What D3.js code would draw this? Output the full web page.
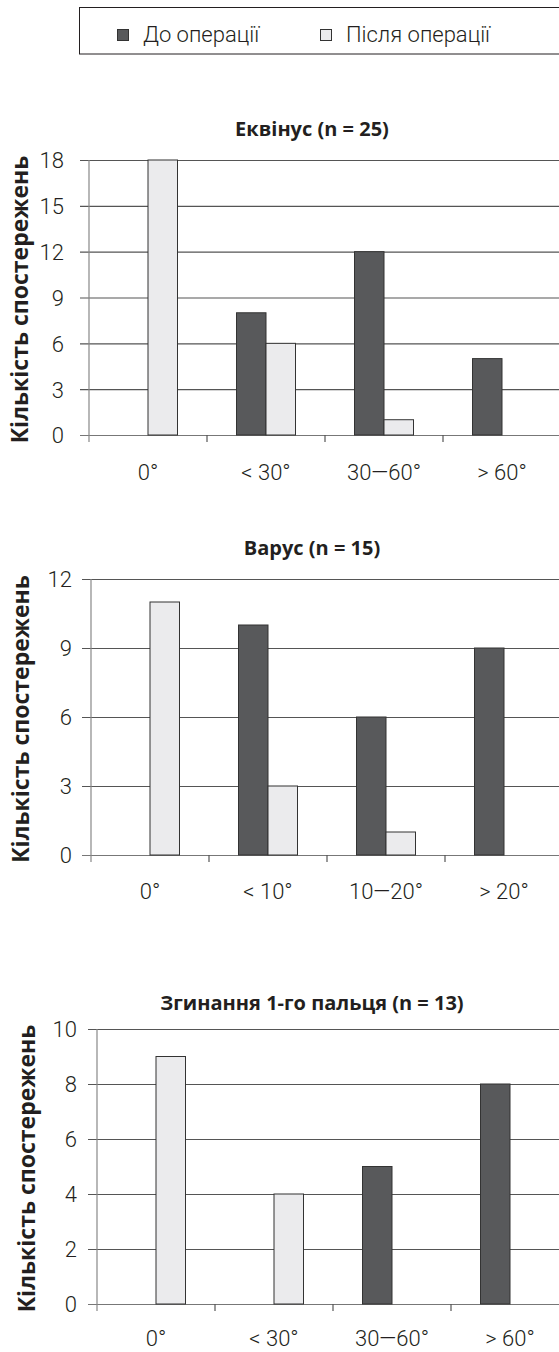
<!DOCTYPE html>
<html>
<head>
<meta charset="utf-8">
<script src="https://cdn.jsdelivr.net/npm/d3@7"></script>
<style>
  html, body { margin: 0; padding: 0; background: #fff; }
  svg { display: block; }
  .tick-label { font-family: Roboto, "Liberation Sans", sans-serif; font-weight: 300; fill: #231f20; }
  .title { font-family: "Open Sans", "DejaVu Sans", sans-serif; font-weight: 700; fill: #231f20; }
</style>
</head>
<body>
<svg id="chart" width="559" height="1352"></svg>
<script>
// Series names shown in the legend
const seriesNames = ["До операції", "Після операції"];
const seriesColors = ["#58595b", "#ebebed"];

// Panel 1: equinus
const equinusTitle = "Еквінус (n = 25)";
const equinusCategories = ["0°", "< 30°", "30—60°", "> 60°"];
const equinusBefore = [0, 8, 12, 5];
const equinusAfter = [18, 6, 1, 0];
const equinusTicks = [0, 3, 6, 9, 12, 15, 18];

// Panel 2: varus
const varusTitle = "Варус (n = 15)";
const varusCategories = ["0°", "< 10°", "10—20°", "> 20°"];
const varusBefore = [0, 10, 6, 9];
const varusAfter = [11, 3, 1, 0];
const varusTicks = [0, 3, 6, 9, 12];

// Panel 3: big toe flexion
const toeTitle = "Згинання 1-го пальця (n = 13)";
const toeCategories = ["0°", "< 30°", "30—60°", "> 60°"];
const toeBefore = [0, 0, 5, 8];
const toeAfter = [9, 4, 0, 0];
const toeTicks = [0, 2, 4, 6, 8, 10];

const yTitle = "Кількість спостережень";

const svg = d3.select("#chart");

// Legend box
const legend = svg.append("g");
legend.append("rect")
  .attr("x", 79.5).attr("y", 7.5).attr("width", 500).attr("height", 46.5)
  .attr("fill", "#fff").attr("stroke", "#231f20").attr("stroke-width", 1);
const legendX = [117, 320];
seriesNames.forEach((name, i) => {
  legend.append("rect")
    .attr("x", legendX[i] + 0.5).attr("y", 29.5).attr("width", 11).attr("height", 11)
    .attr("fill", seriesColors[i]).attr("stroke", "#333").attr("stroke-width", 1);
  legend.append("text")
    .attr("class", "tick-label")
    .attr("x", legendX[i] + 26).attr("y", 42)
    .attr("font-size", 22)
    .text(name);
});

const panels = [
  { title: equinusTitle, cats: equinusCategories, before: equinusBefore, after: equinusAfter, ticks: equinusTicks,
    top: 160, bottom: 435, left: 89, titleY: 136, yTitleX: 20, labelGap: 25, catGap: 45 },
  { title: varusTitle, cats: varusCategories, before: varusBefore, after: varusAfter, ticks: varusTicks,
    top: 579, bottom: 855, left: 91, titleY: 555, yTitleX: 21, labelGap: 19, catGap: 44 },
  { title: toeTitle, cats: toeCategories, before: toeBefore, after: toeAfter, ticks: toeTicks,
    top: 1029, bottom: 1304, left: 97, titleY: 1010, yTitleX: 27, labelGap: 20, catGap: 42 }
];

panels.forEach(p => {
  const g = svg.append("g");
  const x = d3.scaleBand().domain(p.cats).range([p.left, p.left + 472]).padding(0);
  const inner = d3.scaleBand().domain(seriesNames)
    .range([x.bandwidth() / 4, x.bandwidth() * 3 / 4]).padding(0);
  const y = d3.scaleLinear().domain([0, d3.max(p.ticks)]).range([p.bottom, p.top]);

  // Horizontal grid lines with outward ticks
  const yAxis = d3.axisLeft(y).tickValues(p.ticks).tickSize(-(560 - p.left)).tickSizeOuter(0);
  const ya = g.append("g").attr("transform", `translate(${p.left},0)`).call(yAxis);
  ya.select(".domain").remove();
  ya.selectAll(".tick line")
    .attr("x1", -9)
    .attr("stroke", d => d === 0 ? "#777" : "#555")
    .attr("stroke-width", 1.2);
  ya.selectAll(".tick text")
    .attr("class", "tick-label")
    .attr("font-size", 22)
    .attr("x", -p.labelGap)
    .attr("dy", "0.36em");

  // Vertical axis line
  g.append("line")
    .attr("x1", p.left).attr("x2", p.left)
    .attr("y1", p.top).attr("y2", p.bottom + 7)
    .attr("stroke", "#888").attr("stroke-width", 1.2);

  // Category boundary ticks under the baseline
  g.selectAll(".cat-tick").data(p.cats.slice(1)).join("line")
    .attr("x1", d => x(d)).attr("x2", d => x(d))
    .attr("y1", p.bottom).attr("y2", p.bottom + 7)
    .attr("stroke", "#555").attr("stroke-width", 1.2);

  // Category labels
  g.selectAll(".cat-label").data(p.cats).join("text")
    .attr("class", "tick-label")
    .attr("x", d => x(d) + x.bandwidth() / 2)
    .attr("y", p.bottom + p.catGap)
    .attr("text-anchor", "middle")
    .attr("font-size", 22)
    .text(d => d);

  // Bars
  const rows = [];
  p.cats.forEach((c, i) => {
    [p.before[i], p.after[i]].forEach((v, s) => {
      if (v > 0) rows.push({ cat: c, series: seriesNames[s], value: v, color: seriesColors[s] });
    });
  });
  g.selectAll(".bar").data(rows).join("rect")
    .attr("x", d => x(d.cat) + inner(d.series))
    .attr("width", inner.bandwidth())
    .attr("y", d => y(d.value))
    .attr("height", d => y(0) - y(d.value))
    .attr("fill", d => d.color)
    .attr("stroke", "#333")
    .attr("stroke-width", 1);

  // Panel title
  g.append("text")
    .attr("class", "title")
    .attr("x", 312).attr("y", p.titleY)
    .attr("text-anchor", "middle")
    .attr("font-size", 20)
    .text(p.title);

  // Y axis title
  g.append("text")
    .attr("class", "title")
    .attr("transform", `translate(${p.yTitleX + 8},${(p.top + p.bottom) / 2 + 2}) rotate(-90)`)
    .attr("text-anchor", "middle")
    .attr("font-size", 23)
    .text(yTitle);
});
</script>
</body>
</html>
